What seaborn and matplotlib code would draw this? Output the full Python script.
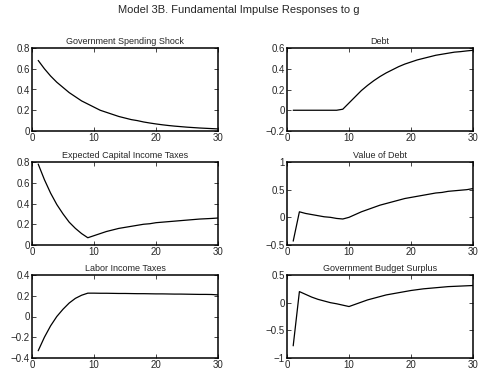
import numpy as np
import pandas as pd
import matplotlib
matplotlib.use('Agg')
import matplotlib.pyplot as plt
import seaborn as sns

# 1. data (periods 1..30)
periods = list(range(1, 31))

gov_spending = [0.68, 0.60, 0.53, 0.47, 0.42, 0.37, 0.33, 0.29, 0.26, 0.23,
                0.20, 0.18, 0.16, 0.14, 0.125, 0.11, 0.10, 0.087, 0.077, 0.068,
                0.060, 0.053, 0.047, 0.042, 0.037, 0.033, 0.029, 0.026, 0.023, 0.020]

debt = [0.0, 0.0, 0.0, 0.0, 0.0, 0.0, 0.0, 0.0, 0.01, 0.07,
        0.13, 0.19, 0.24, 0.285, 0.325, 0.36, 0.39, 0.42, 0.445, 0.465,
        0.485, 0.50, 0.515, 0.53, 0.54, 0.55, 0.56, 0.565, 0.572, 0.578]

exp_capital_tax = [0.78, 0.63, 0.50, 0.39, 0.30, 0.22, 0.16, 0.11, 0.07, 0.09,
                   0.11, 0.13, 0.145, 0.16, 0.17, 0.18, 0.19, 0.20, 0.205, 0.215,
                   0.22, 0.225, 0.23, 0.235, 0.24, 0.245, 0.25, 0.253, 0.256, 0.26]

value_of_debt = [-0.43, 0.10, 0.07, 0.05, 0.03, 0.01, 0.0, -0.02, -0.03, 0.0,
                 0.05, 0.10, 0.14, 0.18, 0.22, 0.25, 0.28, 0.31, 0.34, 0.36,
                 0.38, 0.40, 0.42, 0.44, 0.45, 0.47, 0.48, 0.49, 0.50, 0.52]

labor_tax = [-0.33, -0.20, -0.09, 0.0, 0.07, 0.13, 0.175, 0.205, 0.225, 0.225,
             0.224, 0.224, 0.223, 0.222, 0.222, 0.221, 0.220, 0.220, 0.219, 0.218,
             0.218, 0.217, 0.216, 0.216, 0.215, 0.214, 0.213, 0.213, 0.212, 0.208]

budget_surplus = [-0.78, 0.20, 0.15, 0.10, 0.06, 0.03, 0.0, -0.02, -0.045, -0.07,
                  -0.03, 0.01, 0.05, 0.08, 0.11, 0.14, 0.16, 0.18, 0.20, 0.22,
                  0.235, 0.25, 0.26, 0.27, 0.28, 0.29, 0.295, 0.30, 0.305, 0.31]

panels = [
    ('Government Spending Shock', gov_spending, (0, 0.8), [0, 0.2, 0.4, 0.6, 0.8], ['0', '0.2', '0.4', '0.6', '0.8']),
    ('Debt', debt, (-0.2, 0.6), [-0.2, 0, 0.2, 0.4, 0.6], ['\u22120.2', '0', '0.2', '0.4', '0.6']),
    ('Expected Capital Income Taxes', exp_capital_tax, (0, 0.8), [0, 0.2, 0.4, 0.6, 0.8], ['0', '0.2', '0.4', '0.6', '0.8']),
    ('Value of Debt', value_of_debt, (-0.5, 1), [-0.5, 0, 0.5, 1], ['\u22120.5', '0', '0.5', '1']),
    ('Labor Income Taxes', labor_tax, (-0.4, 0.4), [-0.4, -0.2, 0, 0.2, 0.4], ['\u22120.4', '\u22120.2', '0', '0.2', '0.4']),
    ('Government Budget Surplus', budget_surplus, (-1, 0.5), [-1, -0.5, 0, 0.5], ['\u22121', '\u22120.5', '0', '0.5']),
]

# 2. style
sns.set_style('ticks')
plt.rcParams['font.family'] = ['Liberation Sans', 'DejaVu Sans']
plt.rcParams['xtick.direction'] = 'in'
plt.rcParams['ytick.direction'] = 'in'

fig = plt.figure(figsize=(4.78, 3.77), dpi=100)
W, H = 478.0, 377.0
col_left = [32, 287]
col_w = 186
row_top = [48, 162, 275]
row_h = 83

for i, (title, vals, ylim, yticks, ylabels) in enumerate(panels):
    r, c = divmod(i, 2)
    ax = fig.add_axes([col_left[c] / W, 1 - (row_top[r] + row_h) / H, col_w / W, row_h / H])
    df = pd.DataFrame({'t': periods, 'v': vals})
    sns.lineplot(data=df, x='t', y='v', ax=ax, color='black', linewidth=0.9)
    ax.set_xlim(0, 30)
    ax.set_ylim(*ylim)
    ax.set_xticks([0, 10, 20, 30])
    ax.set_xticklabels(['0', '10', '20', '30'])
    ax.set_yticks(yticks)
    ax.set_yticklabels(ylabels)
    ax.set_xlabel('')
    ax.set_ylabel('')
    ax.set_title(title, fontsize=6.5, pad=3)
    ax.tick_params(labelsize=7, length=3, width=0.6, pad=1.5,
                   top=True, right=True)
    for s in ax.spines.values():
        s.set_linewidth(1.1)
        s.set_color('black')

fig.text(0.5, 1 - 10 / H, 'Model 3B. Fundamental Impulse Responses to g',
         ha='center', va='center', fontsize=8)

fig.savefig('out.png', dpi=100)
